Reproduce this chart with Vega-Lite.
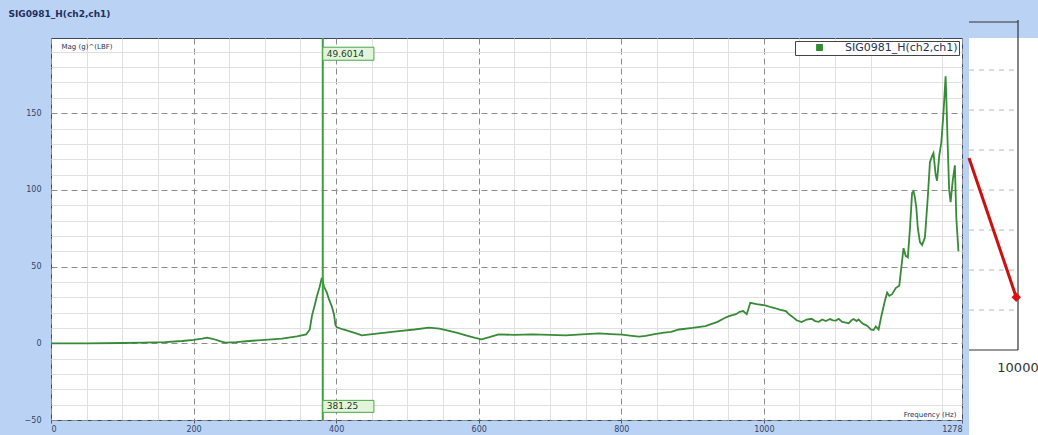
{
  "$schema": "https://vega.github.io/schema/vega-lite/v6.json",
  "background": "#bad2f4",
  "padding": {"left": 6, "top": 10, "right": 0, "bottom": 0},
  "title": {"text": "SIG0981_H(ch2,ch1)", "anchor": "start", "frame": "bounds", "fontSize": 9, "fontWeight": "bold", "color": "#1f2f5f", "font": "DejaVu Sans", "offset": 0, "baseline": "top", "dx": 2},
  "spacing": 0,
  "resolve": {"legend": {"color": "independent"}, "scale": {"color": "independent", "x": "independent", "y": "independent"}},
  "config": {
    "font": "DejaVu Sans",
    "axis": {"labelFont": "DejaVu Sans", "labelFontSize": 8, "labelColor": "#334466", "titleFont": "DejaVu Sans"}
  },
  "datasets": {
    "curve": [
      {"f":0,"m":0},{"f":50,"m":0},{"f":100,"m":0.2},{"f":130,"m":0.4},{"f":160,"m":0.8},{"f":184,"m":1.5},{"f":200,"m":2.2},{"f":212,"m":3},{"f":219,"m":3.7},{"f":228,"m":2.8},{"f":238,"m":1.2},{"f":245,"m":0.5},{"f":260,"m":0.8},{"f":278,"m":1.5},{"f":300,"m":2.2},{"f":324,"m":3},{"f":345,"m":4.5},{"f":358,"m":5.8},{"f":363,"m":9},{"f":366,"m":17.7},{"f":370,"m":25},{"f":373,"m":30.7},{"f":377,"m":37},{"f":380,"m":42.8},{"f":383,"m":37},{"f":387,"m":33},{"f":390,"m":28.6},{"f":394,"m":24},{"f":397,"m":18.8},{"f":399,"m":12},{"f":401,"m":10.4},{"f":410,"m":9},{"f":418,"m":8},{"f":428,"m":6.5},{"f":436,"m":5.2},{"f":460,"m":6.5},{"f":488,"m":8},{"f":510,"m":9},{"f":530,"m":10.2},{"f":545,"m":9.5},{"f":554,"m":8.6},{"f":570,"m":6.8},{"f":582,"m":5.2},{"f":595,"m":3.5},{"f":604,"m":2.6},{"f":615,"m":4},{"f":628,"m":5.8},{"f":650,"m":5.5},{"f":675,"m":5.8},{"f":700,"m":5.5},{"f":722,"m":5.2},{"f":745,"m":5.8},{"f":769,"m":6.5},{"f":785,"m":6},{"f":801,"m":5.6},{"f":815,"m":4.8},{"f":825,"m":4.3},{"f":834,"m":4.8},{"f":845,"m":5.8},{"f":860,"m":7},{"f":870,"m":7.5},{"f":881,"m":9},{"f":900,"m":10},{"f":918,"m":11.2},{"f":935,"m":14},{"f":945,"m":16.5},{"f":951,"m":17.7},{"f":961,"m":19},{"f":966,"m":20.5},{"f":971,"m":21},{"f":976,"m":19},{"f":981,"m":26.4},{"f":990,"m":25.5},{"f":1002,"m":24.7},{"f":1010,"m":23.5},{"f":1015,"m":23},{"f":1022,"m":22},{"f":1031,"m":21},{"f":1035,"m":19},{"f":1039,"m":17.7},{"f":1046,"m":15},{"f":1053,"m":13.8},{"f":1060,"m":15.5},{"f":1067,"m":16},{"f":1072,"m":14.5},{"f":1077,"m":14},{"f":1082,"m":15.5},{"f":1087,"m":14.5},{"f":1093,"m":15.8},{"f":1097,"m":15},{"f":1101,"m":14.8},{"f":1105,"m":16},{"f":1110,"m":14},{"f":1115,"m":13.5},{"f":1119,"m":13},{"f":1123,"m":15},{"f":1126,"m":15.8},{"f":1130,"m":14.5},{"f":1133,"m":15.6},{"f":1137,"m":13.5},{"f":1140,"m":12.5},{"f":1144,"m":11.7},{"f":1147,"m":10.5},{"f":1150,"m":9},{"f":1154,"m":8.6},{"f":1157,"m":11},{"f":1161,"m":9},{"f":1165,"m":18},{"f":1170,"m":28},{"f":1173,"m":33},{"f":1176,"m":31},{"f":1180,"m":32},{"f":1185,"m":36},{"f":1190,"m":37.5},{"f":1193,"m":50},{"f":1196,"m":62},{"f":1199,"m":57},{"f":1202,"m":56},{"f":1205,"m":75},{"f":1208,"m":98},{"f":1210,"m":99},{"f":1212,"m":95},{"f":1214,"m":88},{"f":1216,"m":75},{"f":1219,"m":66},{"f":1222,"m":64},{"f":1226,"m":69},{"f":1230,"m":95},{"f":1233,"m":118},{"f":1236,"m":122},{"f":1238,"m":124},{"f":1241,"m":110},{"f":1243,"m":106},{"f":1246,"m":122},{"f":1249,"m":131},{"f":1252,"m":150},{"f":1255,"m":174},{"f":1256,"m":160},{"f":1258,"m":128},{"f":1260,"m":100},{"f":1262,"m":92},{"f":1265,"m":106},{"f":1268,"m":116},{"f":1270,"m":82},{"f":1273,"m":60}
    ],
    "marker": [{"freq": 381.25, "top": "49.6014", "bottom": "381.25"}],
    "grid2": [{"g":1},{"g":2},{"g":3},{"g":4},{"g":5},{"g":6},{"g":7}],
    "one": [{"label": "10000"}],
    "redline": [{"x":3000,"y":4.8},{"x":9750,"y":1.32}],
    "reddot": [{"x":9750,"y":1.32}]
  },
  "hconcat": [
    {
      "width": 911,
      "height": 382,
      "view": {"fill": "white", "stroke": "#3c4660", "strokeWidth": 1},
      "resolve": {"axis": {"x": "independent", "y": "independent"}},
      "layer": [
        {
          "data": {"name": "curve"},
          "mark": {"type": "line", "strokeWidth": 1.8, "color": "#378a37"},
          "encoding": {
            "x": {"field": "f", "type": "quantitative", "scale": {"domain": [0, 1278], "nice": false, "zero": false},
              "axis": {"orient": "bottom", "values": [0,200,400,600,800,1000,1278], "format": "d", "grid": true, "gridColor": "#8c8c8c", "gridDash": [6,4], "ticks": true, "tickSize": 3, "tickColor": "#556", "domain": false, "labelFlush": true, "labelPadding": 2,
                "title": "Frequency (Hz)", "titleAnchor": "end", "titleAlign": "right", "titleBaseline": "bottom", "titleY": -3, "titleX": 905, "titleFontSize": 7, "titleFontWeight": "normal", "titleColor": "#223355"}},
            "y": {"field": "m", "type": "quantitative", "scale": {"domain": [-50, 199], "nice": false, "zero": false},
              "axis": {"orient": "left", "values": [-50,0,50,100,150], "grid": true, "gridColor": "#8c8c8c", "gridDash": [6,4], "ticks": false, "domain": false, "labelPadding": 10, "minExtent": 44, "maxExtent": 44,
                "title": "Mag (g)^(LBF)", "titleAngle": 0, "titleX": 10, "titleY": 4, "titleAlign": "left", "titleBaseline": "top", "titleFontSize": 7, "titleFontWeight": "normal", "titleColor": "#223355"}},
            "color": {"datum": "SIG0981_H(ch2,ch1)", "type": "nominal", "scale": {"range": ["#378a37"]},
              "legend": {"orient": "top-right", "offset": 3, "title": null, "strokeColor": "#444", "fillColor": "white", "padding": 1, "symbolType": "square", "symbolSize": 28, "symbolFillColor": "#2f8a2f", "symbolStrokeColor": "#2f8a2f", "symbolOffset": 18, "labelOffset": 20, "labelFontSize": 11, "labelColor": "#223355", "labelLimit": 220}}
          }
        },
        {
          "data": {"name": "marker"},
          "mark": {"type": "rule", "color": "#3fa03f", "strokeWidth": 2},
          "encoding": {
            "x": {"field": "freq", "type": "quantitative", "scale": {"domain": [0, 1278], "nice": false, "zero": false},
              "axis": {"orient": "top", "values": [50,100,150,250,300,350,450,500,550,650,700,750,850,900,950,1050,1100,1150,1250], "labels": false, "ticks": false, "domain": false, "grid": true, "gridColor": "#e0e0e0", "title": null, "minExtent": 0, "maxExtent": 0}}
          }
        },
        {
          "data": {"name": "marker"},
          "mark": {"type": "rect", "fill": "#e2f5da", "stroke": "#4aa64a", "strokeWidth": 1},
          "encoding": {
            "x": {"field": "freq", "type": "quantitative", "scale": {"domain": [0, 1278], "nice": false, "zero": false}, "axis": null},
            "x2": {"datum": 453},
            "y": {"datum": 193, "type": "quantitative", "scale": {"domain": [-50, 199], "nice": false, "zero": false},
              "axis": {"orient": "right", "values": [-40,-30,-20,-10,10,20,30,40,60,70,80,90,110,120,130,140,160,170,180,190], "labels": false, "ticks": false, "domain": false, "grid": true, "gridColor": "#e0e0e0", "title": null, "minExtent": 0, "maxExtent": 0}},
            "y2": {"datum": 184.5}
          }
        },
        {
          "data": {"name": "marker"},
          "mark": {"type": "rect", "fill": "#e2f5da", "stroke": "#4aa64a", "strokeWidth": 1},
          "encoding": {
            "x": {"field": "freq", "type": "quantitative", "scale": {"domain": [0, 1278], "nice": false, "zero": false}, "axis": null},
            "x2": {"datum": 453},
            "y": {"datum": -37.2, "type": "quantitative", "scale": {"domain": [-50, 199], "nice": false, "zero": false}, "axis": null},
            "y2": {"datum": -45}
          }
        },
        {
          "data": {"name": "marker"},
          "mark": {"type": "text", "align": "left", "baseline": "middle", "dx": 4, "fontSize": 9, "color": "#1e3a1e", "font": "DejaVu Sans"},
          "encoding": {
            "x": {"field": "freq", "type": "quantitative", "scale": {"domain": [0, 1278], "nice": false, "zero": false}, "axis": null},
            "y": {"datum": 188.8, "type": "quantitative", "scale": {"domain": [-50, 199], "nice": false, "zero": false}, "axis": null},
            "text": {"field": "top"}
          }
        },
        {
          "data": {"name": "marker"},
          "mark": {"type": "text", "align": "left", "baseline": "middle", "dx": 4, "fontSize": 9, "color": "#1e3a1e", "font": "DejaVu Sans"},
          "encoding": {
            "x": {"field": "freq", "type": "quantitative", "scale": {"domain": [0, 1278], "nice": false, "zero": false}, "axis": null},
            "y": {"datum": -41.1, "type": "quantitative", "scale": {"domain": [-50, 199], "nice": false, "zero": false}, "axis": null},
            "text": {"field": "bottom"}
          }
        }
      ]
    },
    {
      "width": 70,
      "height": 397,
      "view": {"fill": "white", "stroke": null},
      "layer": [
        {
          "data": {"name": "grid2"},
          "mark": {"type": "rule", "color": "#b8b8b8", "strokeDash": [5,5], "strokeWidth": 1},
          "encoding": {
            "y": {"field": "g", "type": "quantitative", "scale": {"domain": [-2.125, 7.8], "nice": false, "zero": false}, "axis": null},
            "x": {"datum": 3000, "type": "quantitative", "scale": {"domain": [3000, 13000], "nice": false, "zero": false}, "axis": null},
            "x2": {"datum": 9600}
          }
        },
        {
          "data": {"name": "one"},
          "mark": {"type": "rule", "color": "#333", "strokeWidth": 1.2},
          "encoding": {
            "x": {"datum": 10000, "type": "quantitative", "scale": {"domain": [3000, 13000], "nice": false, "zero": false}, "axis": null},
            "y": {"datum": 0, "type": "quantitative", "scale": {"domain": [-2.125, 7.8], "nice": false, "zero": false}, "axis": null},
            "y2": {"datum": 8.25}
          }
        },
        {
          "data": {"name": "one"},
          "mark": {"type": "rule", "color": "#333", "strokeWidth": 1.2},
          "encoding": {
            "x": {"datum": 3000, "type": "quantitative", "scale": {"domain": [3000, 13000], "nice": false, "zero": false}, "axis": null},
            "x2": {"datum": 10000},
            "y": {"datum": 8.2, "type": "quantitative", "scale": {"domain": [-2.125, 7.8], "nice": false, "zero": false}, "axis": null}
          }
        },
        {
          "data": {"name": "one"},
          "mark": {"type": "rule", "color": "#333", "strokeWidth": 1.2},
          "encoding": {
            "x": {"datum": 3000, "type": "quantitative", "scale": {"domain": [3000, 13000], "nice": false, "zero": false}, "axis": null},
            "x2": {"datum": 10000},
            "y": {"datum": 0, "type": "quantitative", "scale": {"domain": [-2.125, 7.8], "nice": false, "zero": false}, "axis": null}
          }
        },
        {
          "data": {"name": "redline"},
          "mark": {"type": "line", "color": "#cc1010", "strokeWidth": 3},
          "encoding": {
            "x": {"field": "x", "type": "quantitative", "scale": {"domain": [3000, 13000], "nice": false, "zero": false}, "axis": null},
            "y": {"field": "y", "type": "quantitative", "scale": {"domain": [-2.125, 7.8], "nice": false, "zero": false}, "axis": null}
          }
        },
        {
          "data": {"name": "reddot"},
          "mark": {"type": "point", "shape": "diamond", "filled": true, "color": "#dd1111", "size": 90, "opacity": 1},
          "encoding": {
            "x": {"field": "x", "type": "quantitative", "scale": {"domain": [3000, 13000], "nice": false, "zero": false}, "axis": null},
            "y": {"field": "y", "type": "quantitative", "scale": {"domain": [-2.125, 7.8], "nice": false, "zero": false}, "axis": null}
          }
        },
        {
          "data": {"name": "one"},
          "mark": {"type": "text", "fontSize": 13, "color": "#333", "font": "DejaVu Sans", "baseline": "middle", "align": "center"},
          "encoding": {
            "x": {"datum": 10000, "type": "quantitative", "scale": {"domain": [3000, 13000], "nice": false, "zero": false}, "axis": null},
            "y": {"datum": -0.45, "type": "quantitative", "scale": {"domain": [-2.125, 7.8], "nice": false, "zero": false}, "axis": null},
            "text": {"field": "label"}
          }
        }
      ]
    }
  ]
}
